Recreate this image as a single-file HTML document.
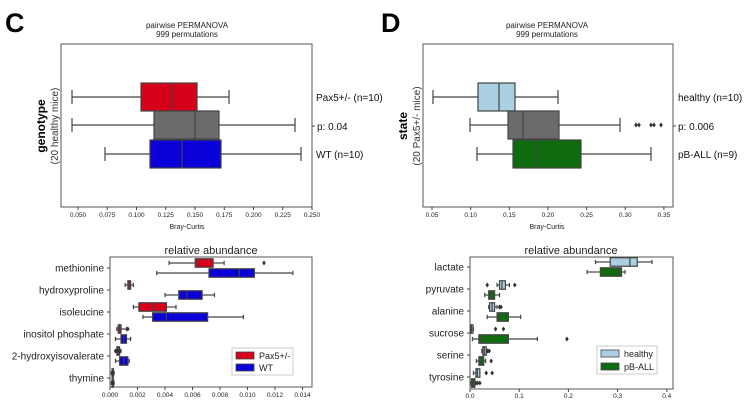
<!DOCTYPE html>
<html><head><meta charset="utf-8"><style>
html,body{margin:0;padding:0;background:#fff;}
svg{display:block;font-family:"Liberation Sans",sans-serif;}
</style></head><body>
<svg id="s" width="748" height="412" viewBox="0 0 748 412" xmlns="http://www.w3.org/2000/svg">
<rect width="748" height="412" fill="#fff"/>
<text x="5" y="32" font-size="27" font-weight="bold">C</text>
<text x="381" y="32" font-size="27" font-weight="bold">D</text>
<g font-size="8" text-anchor="middle" fill="#222">
<text x="187" y="28">pairwise PERMANOVA</text><text x="187" y="37">999 permutations</text>
<text x="547" y="28">pairwise PERMANOVA</text><text x="547" y="37">999 permutations</text>
<text x="187" y="229" font-size="7">Bray-Curtis</text>
<text x="547" y="229" font-size="7">Bray-Curtis</text>
</g>
<text transform="translate(45,126) rotate(-90)" font-size="12" font-weight="bold" text-anchor="middle">genotype</text>
<text transform="translate(58,126) rotate(-90)" font-size="10" text-anchor="middle" fill="#333">(20 healthy mice)</text>
<text transform="translate(407,126) rotate(-90)" font-size="12" font-weight="bold" text-anchor="middle">state</text>
<text transform="translate(420,126) rotate(-90)" font-size="10" text-anchor="middle" fill="#333">(20 Pax5+/- mice)</text>
<g font-size="10" fill="#111">
<text x="316" y="101">Pax5+/- (n=10)</text><text x="317" y="130">p: 0.04</text><text x="316" y="158">WT (n=10)</text>
<text x="678" y="101">healthy (n=10)</text><text x="678" y="130">p: 0.006</text><text x="678" y="158">pB-ALL (n=9)</text>
</g>
<g font-size="11" text-anchor="middle" fill="#222">
<text x="211" y="254">relative abundance</text>
<text x="571" y="254">relative abundance</text>
</g>
<g id="plots"></g>
</svg>
<script>
var g=document.getElementById('plots'),h='';
function R(x,y,w,hh,f,sw){h+='<rect x="'+x+'" y="'+y+'" width="'+w+'" height="'+hh+'" fill="'+f+'" stroke="#444" stroke-width="'+(sw||1.2)+'"/>';}
function L(x1,y1,x2,y2,c,w){h+='<line x1="'+x1+'" y1="'+y1+'" x2="'+x2+'" y2="'+y2+'" stroke="'+(c||'#444')+'" stroke-width="'+(w||1.2)+'"/>';}
function T(x,y,t,s,a){h+='<text x="'+x+'" y="'+y+'" font-size="'+s+'" text-anchor="'+(a||'middle')+'" fill="#222">'+t+'</text>';}
function D(x,y){h+='<path d="M'+x+' '+(y-2.5)+'L'+(x+1.8)+' '+y+'L'+x+' '+(y+2.5)+'L'+(x-1.8)+' '+y+'Z" fill="#333"/>';}
function box(sx,yc,hh,wl,q1,md,q3,wh,f,out){
 var a=sx(wl),b=sx(q1),c=sx(md),d=sx(q3),e=sx(wh),cap=hh/2;
 L(a,yc,b,yc);L(d,yc,e,yc);L(a,yc-cap/2,a,yc+cap/2);L(e,yc-cap/2,e,yc+cap/2);
 R(b,yc-hh/2,Math.max(d-b,1),hh,f);L(c,yc-hh/2,c,yc+hh/2);
 (out||[]).forEach(function(o){D(sx(o),yc);});
}
// C top
h+='<rect x="61" y="44" width="251" height="163" fill="none" stroke="#555" stroke-width="1"/>';
box(function(x){return x},97,28,72,141,172,197,229,'#d7001a');
box(function(x){return x},125,28,72,154,195,219,295,'#6b6b6b');
box(function(x){return x},154,28,105,150,182,221,301,'#0a00d8');
L(312,126,315,126,'#444',1);
[0.05,0.075,0.1,0.125,0.15,0.175,0.2,0.225,0.25].forEach(function(v){var x=78+(v-0.05)*1170;L(x,207,x,210,'#444',1);T(x,217,v.toFixed(3),6.5);});
// D top
h+='<rect x="423" y="44" width="250" height="163" fill="none" stroke="#555" stroke-width="1"/>';
var I=function(x){return x};
box(I,97,28,433,478,499,515,558,'#a9cfe0');
box(I,125,28,470,508,523,559,620,'#6b6b6b',[636,639,651,654,661]);
box(I,154,28,477,513,537,581,651,'#0e6b0e');
L(673,126,676,126,'#444',1);
[0.05,0.1,0.15,0.2,0.25,0.3,0.35].forEach(function(v){var x=432+(v-0.05)*773;L(x,207,x,210,'#444',1);T(x,217,v.toFixed(2),6.5);});
// C bottom
h+='<rect x="110" y="257" width="202" height="130" fill="none" stroke="#555" stroke-width="1"/>';
var sc=function(v){return 110+v*13750};
var cats=['methionine','hydroxyproline','isoleucine','inositol phosphate','2-hydroxyisovalerate','thymine'];
cats.forEach(function(c,i){var y=268+i*22;T(104,y+3.5,c,10,'end');L(107,y,110,y,'#444',1);});
var cr='#d7001a',cb='#0a00d8',bh=8.5;
box(sc,263,bh,.0043,.0062,.0063,.0075,.0083,cr,[.0112]);
box(sc,273,bh,.0034,.0072,.0094,.0105,.0133,cb);
box(sc,285,bh,.0011,.0013,.0014,.0015,.0017,cr);
box(sc,295,bh,.0040,.0050,.0056,.0067,.0076,cb);
box(sc,307,bh,.0017,.0021,.0031,.0041,.0048,cr);
box(sc,317,bh,.0024,.0031,.0041,.0071,.0097,cb);
box(sc,329,bh,.0005,.0006,.0007,.0008,.0012,cr,[.0013]);
box(sc,339,bh,.0004,.0008,.0010,.0012,.0015,cb);
box(sc,351,bh,.0004,.0005,.0006,.0007,.0008,cr,[.0004,.0005,.0007]);
box(sc,361,bh,.0004,.0007,.0010,.0013,.0014,cb);
box(sc,373,bh,.0001,.00015,.0002,.00025,.0003,cr,[.0002]);
box(sc,383,bh,.0001,.00015,.0002,.00025,.0003,cb,[.0002]);
for(var k=0;k<=7;k++){var v=k*0.002,x=sc(v);L(x,387,x,390,'#444',1);T(x,397,v.toFixed(3),6.5);}
h+='<rect x="232" y="348" width="61" height="27" fill="#fff" stroke="#ccc" stroke-width="1"/>';
R(236,352,18,7,cr,0.8);T(259,359,'Pax5+/-',9,'start');R(236,364,18,7,cb,0.8);T(259,371,'WT',9,'start');
// D bottom
h+='<rect x="470" y="257" width="203" height="132" fill="none" stroke="#555" stroke-width="1"/>';
var sd=function(v){return 470+v*492};
var cats2=['lactate','pyruvate','alanine','sucrose','serine','tyrosine'];
cats2.forEach(function(c,i){var y=267+i*22;T(464,y+3.5,c,10,'end');L(467,y,470,y,'#444',1);});
var hl='#a9cfe0',gr='#0e6b0e';
box(sd,262,bh,.255,.285,.325,.34,.37,hl);
box(sd,272,bh,.238,.265,.30,.308,.315,gr);
box(sd,285,bh,.055,.06,.065,.072,.08,hl,[.035,.091]);
box(sd,295,bh,.03,.038,.042,.05,.06,gr);
box(sd,307,bh,.038,.04,.045,.05,.055,hl,[.06,.063]);
box(sd,317,bh,.035,.055,.06,.078,.103,gr);
box(sd,329,bh,.001,.002,.003,.006,.007,hl,[.052,.068]);
box(sd,339,bh,.005,.018,.025,.078,.137,gr,[.197]);
box(sd,351,bh,.024,.026,.029,.033,.035,hl,[.036,.039]);
box(sd,361,bh,.013,.018,.022,.028,.032,gr,[.043]);
box(sd,373,bh,.007,.012,.015,.02,.02,hl,[.033,.045]);
box(sd,383,bh,.002,.003,.006,.01,.012,gr,[.015,.02]);
for(var k=0;k<=4;k++){var v=k*0.1,x=sd(v);L(x,389,x,392,'#444',1);T(x,398,v.toFixed(1),6.5);}
h+='<rect x="597" y="346" width="60" height="28" fill="#fff" stroke="#ccc" stroke-width="1"/>';
R(601,350,18,7,hl,0.8);T(624,357,'healthy',9,'start');R(601,363,18,7,gr,0.8);T(624,370,'pB-ALL',9,'start');
g.innerHTML=h;
</script>
</body></html>
